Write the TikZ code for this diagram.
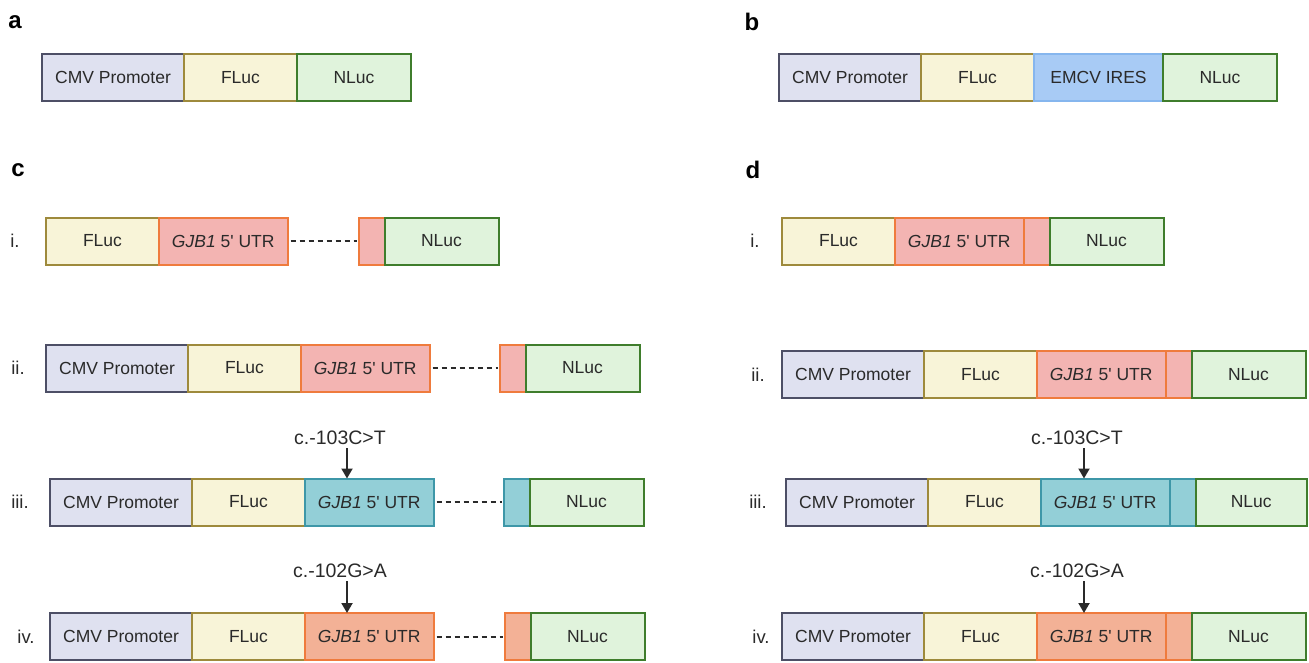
\documentclass[tikz,border=0pt]{standalone}
\usepackage{fontspec}
\setmainfont{Liberation Sans}
\usetikzlibrary{positioning}
\usetikzlibrary{arrows.meta}

\definecolor{ink}{HTML}{2A2A2A}
\definecolor{cmvfill}{HTML}{DFE1F0}
\definecolor{cmvline}{HTML}{4D4F66}
\definecolor{flfill}{HTML}{F8F4D8}
\definecolor{flline}{HTML}{9E8A3C}
\definecolor{nlfill}{HTML}{E0F3DC}
\definecolor{nlline}{HTML}{3F7D2C}
\definecolor{iresfill}{HTML}{A8CBF5}
\definecolor{iresline}{HTML}{86B6EE}
\definecolor{utrfill}{HTML}{F3B4B2}
\definecolor{utrline}{HTML}{EF7B3D}
\definecolor{tealfill}{HTML}{93CFD7}
\definecolor{tealline}{HTML}{3E97A8}
\definecolor{salfill}{HTML}{F3B196}

\newcommand{\gjbutr}{\textit{GJB1} 5\textquotesingle\ UTR}

\tikzset{
  part/.style={draw, line width=2pt, outer sep=0pt, inner sep=0pt,
    minimum height=47pt, text=ink, font=\fontsize{17.5}{20}\selectfont},
  cmv/.style={part, fill=cmvfill, draw=cmvline, minimum width=142pt},
  fluc/.style={part, fill=flfill, draw=flline, minimum width=113pt},
  nluc/.style={part, fill=nlfill, draw=nlline, minimum width=114pt},
  ires/.style={part, fill=iresfill, draw=iresline, minimum width=129pt},
  utr/.style={part, fill=utrfill, draw=utrline, minimum width=128.5pt},
  tail/.style={part, fill=utrfill, draw=utrline, minimum width=26pt},
  teal/.style={fill=tealfill, draw=tealline},
  salmon/.style={fill=salfill, draw=utrline},
  panel/.style={font=\fontsize{24}{26}\selectfont\bfseries, text=black},
  rowlab/.style={font=\fontsize{18.5}{20}\selectfont, text=ink},
  mutlab/.style={font=\fontsize{19.5}{22}\selectfont, text=ink},
  gap/.style={draw=ink, line width=2pt, dash pattern=on 5.5pt off 3.5pt,
    shorten <=3pt, shorten >=2pt},
  arr/.style={draw=ink, line width=2pt}
}

\begin{document}
\begin{tikzpicture}[x=1pt, y=-1pt, >={Triangle[width=11pt,length=10pt]}]
    \useasboundingbox (0,0) rectangle (1309,662);
    % a: plain reporter
    \node[panel] (la) at (15,22) {a};
    \node[cmv, anchor=west] (acmv) at (42,77.5) {CMV Promoter};
    \node[fluc, right=0pt of acmv] (afl) {FLuc};
    \node[nluc, right=0pt of afl] (anl) {NLuc};
    % b: with IRES
    \node[panel] (lb) at (752,22) {b};
    \node[cmv, anchor=west] (bcmv) at (779,77.5) {CMV Promoter};
    \node[fluc, right=0pt of bcmv] (bfl) {FLuc};
    \node[ires, right=0pt of bfl] (bires) {EMCV IRES};
    \node[nluc, right=0pt of bires] (bnl) {NLuc};
    % c: split UTR
    \node[panel] (lc) at (18,170) {c};
    \node[rowlab] (ci) at (15,241) {i.};
    \node[fluc, anchor=west] (c1fl) at (46,241) {FLuc};
    \node[utr, right=0pt of c1fl] (c1utr) {\gjbutr};
    \node[tail, right=71pt of c1utr] (c1tl) {};
    \node[nluc, right=0pt of c1tl] (c1nl) {NLuc};
    \draw[gap] (c1utr) -- (c1tl);
    \node[rowlab] (cii) at (18,368) {ii.};
    \node[cmv, anchor=west] (c2cmv) at (46,368) {CMV Promoter};
    \node[fluc, right=0pt of c2cmv] (c2fl) {FLuc};
    \node[utr, right=0pt of c2fl] (c2utr) {\gjbutr};
    \node[tail, right=70pt of c2utr] (c2tl) {};
    \node[nluc, right=0pt of c2tl] (c2nl) {NLuc};
    \draw[gap] (c2utr) -- (c2tl);
    \node[rowlab] (ciii) at (20,502) {iii.};
    \node[cmv, anchor=west] (c3cmv) at (50,502) {CMV Promoter};
    \node[fluc, right=0pt of c3cmv] (c3fl) {FLuc};
    \node[utr, teal, right=0pt of c3fl] (c3utr) {\gjbutr};
    \node[tail, teal, right=70pt of c3utr] (c3tl) {};
    \node[nluc, right=0pt of c3tl] (c3nl) {NLuc};
    \draw[gap] (c3utr) -- (c3tl);
    \node[mutlab] (c3mut) at (340,438) {c.-103C>T};
    \draw[arr, ->] ([xshift=7pt]c3mut.south) -- ([xshift=7pt]c3mut.south |- c3utr.north);
    \node[rowlab] (civ) at (26,636.5) {iv.};
    \node[cmv, anchor=west] (c4cmv) at (50,636.5) {CMV Promoter};
    \node[fluc, right=0pt of c4cmv] (c4fl) {FLuc};
    \node[utr, salmon, right=0pt of c4fl] (c4utr) {\gjbutr};
    \node[tail, salmon, right=71pt of c4utr] (c4tl) {};
    \node[nluc, right=0pt of c4tl] (c4nl) {NLuc};
    \draw[gap] (c4utr) -- (c4tl);
    \node[mutlab] (c4mut) at (340,571) {c.-102G>A};
    \draw[arr, ->] ([xshift=7pt]c4mut.south) -- ([xshift=7pt]c4mut.south |- c4utr.north);
    % d: intact UTR
    \node[panel] (ld) at (753,170) {d};
    \node[rowlab] (di) at (755,241) {i.};
    \node[fluc, anchor=west] (d1fl) at (782,241) {FLuc};
    \node[utr, right=0pt of d1fl] (d1utr) {\gjbutr};
    \node[tail, right=0pt of d1utr] (d1tl) {};
    \node[nluc, right=0pt of d1tl] (d1nl) {NLuc};
    \node[rowlab] (dii) at (758,374.5) {ii.};
    \node[cmv, anchor=west] (d2cmv) at (782,374.5) {CMV Promoter};
    \node[fluc, right=0pt of d2cmv] (d2fl) {FLuc};
    \node[utr, right=0pt of d2fl] (d2utr) {\gjbutr};
    \node[tail, right=0pt of d2utr] (d2tl) {};
    \node[nluc, right=0pt of d2tl] (d2nl) {NLuc};
    \node[rowlab] (diii) at (758,502) {iii.};
    \node[cmv, anchor=west] (d3cmv) at (786,502) {CMV Promoter};
    \node[fluc, right=0pt of d3cmv] (d3fl) {FLuc};
    \node[utr, teal, right=0pt of d3fl] (d3utr) {\gjbutr};
    \node[tail, teal, right=0pt of d3utr] (d3tl) {};
    \node[nluc, minimum width=111.5pt, right=0pt of d3tl] (d3nl) {NLuc};
    \node[mutlab] (d3mut) at (1077,438) {c.-103C>T};
    \draw[arr, ->] ([xshift=7pt]d3mut.south) -- ([xshift=7pt]d3mut.south |- d3utr.north);
    \node[rowlab] (div) at (761,636.5) {iv.};
    \node[cmv, anchor=west] (d4cmv) at (782,636.5) {CMV Promoter};
    \node[fluc, right=0pt of d4cmv] (d4fl) {FLuc};
    \node[utr, salmon, right=0pt of d4fl] (d4utr) {\gjbutr};
    \node[tail, salmon, right=0pt of d4utr] (d4tl) {};
    \node[nluc, right=0pt of d4tl] (d4nl) {NLuc};
    \node[mutlab] (d4mut) at (1077,571) {c.-102G>A};
    \draw[arr, ->] ([xshift=7pt]d4mut.south) -- ([xshift=7pt]d4mut.south |- d4utr.north);
\end{tikzpicture}
\end{document}
